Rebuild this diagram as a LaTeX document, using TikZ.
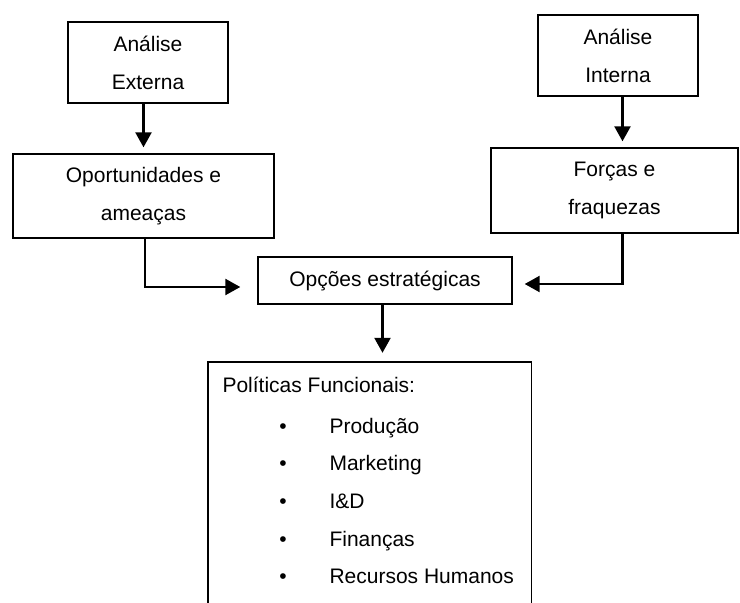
\documentclass[tikz,border=0pt]{standalone}
\usepackage{fontspec}
\setmainfont{Liberation Sans}
\usetikzlibrary{arrows.meta}
\begin{document}
\begin{tikzpicture}[x=1pt,y=-1pt,
 box/.style={draw,line width=1.4pt,align=center,inner sep=0pt},
 arr/.style={-{Triangle[width=16pt,length=15pt]},line width=2.4pt},
 every node/.style={font=\fontsize{21}{38}\selectfont}]
 \useasboundingbox (0,0) rectangle (740,603);
 % caixas de analise
 \node[box,minimum width=160pt,minimum height=81pt] (ext) at (148,62.5) {Análise\\Externa};
 \node[box,minimum width=160pt,minimum height=81pt] (int) at (618,55.5) {Análise\\Interna};
 \node[box,minimum width=261pt,minimum height=84pt] (opp) at (143.5,196) {Oportunidades e\\ameaças};
 \node[box,minimum width=247pt,minimum height=85pt] (forc) at (614.5,190.5) {Forças e\\fraquezas};
 \node[box,minimum width=254pt,minimum height=47pt] (opc) at (385,280.5) {Opções estratégicas};
 % caixa aberta em baixo
 \node[minimum width=323pt,minimum height=250pt,inner sep=0pt] (pol) at (369.5,487) {};
 \draw[line width=1.4pt] (pol.south west) -- (pol.north west) -- (pol.north east) -- (pol.south east);
 \node[anchor=base west] (poltit) at (219,392) {Políticas Funcionais:};
 \foreach \yy/\txt in {433/Produção,470/Marketing,508/I\&D,546/Finanças,583/Recursos Humanos}{
  \node[anchor=base] (b\yy) at (283,\yy) {\textbullet};
  \node[anchor=base west] (t\yy) at (326,\yy) {\txt};
 }
 % setas
 \draw[arr,shorten >=6pt] (ext.south -| opp.north) -- (opp.north);
 \coordinate (ia) at ([xshift=4.5pt]int.south);
 \draw[arr,shorten >=6pt] (ia) -- (ia |- forc.north);
 \draw[arr] ([xshift=1.5pt]opp.south) |- ([xshift=-17pt,yshift=-6.5pt]opc.west);
 \draw[arr] ([xshift=8pt]forc.south) |- ([xshift=12pt,yshift=-3.5pt]opc.east);
 \coordinate (oa) at ([xshift=-2.5pt]opc.south);
 \draw[arr,shorten >=9pt] (oa) -- (oa |- pol.north);
\end{tikzpicture}
\end{document}
